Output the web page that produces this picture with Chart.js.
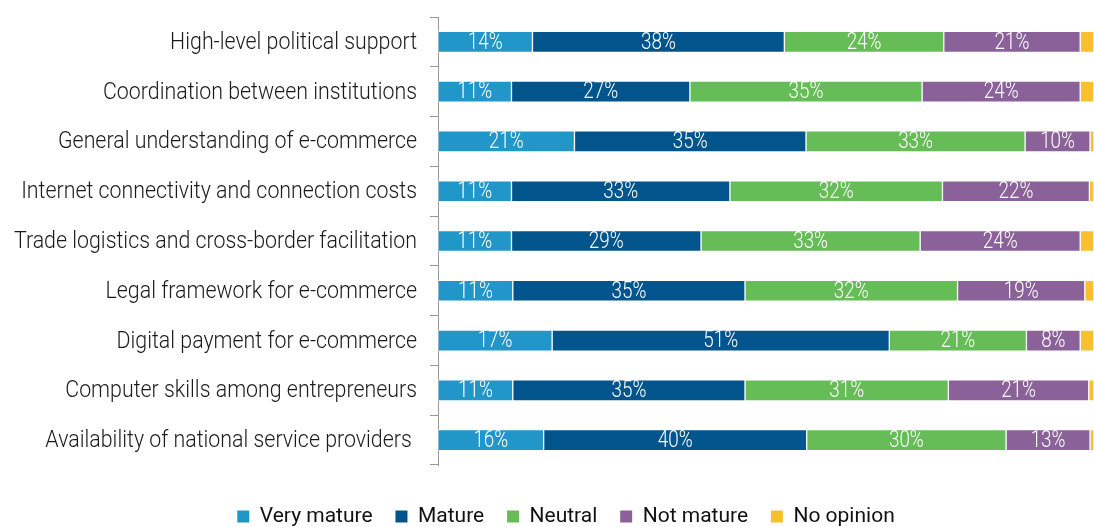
<!DOCTYPE html>
<html>
<head>
<meta charset="utf-8">
<script src="https://cdn.jsdelivr.net/npm/chart.js@4"></script>
<style>
  body { margin: 0; background: #fff; }
  #wrap { width: 1094px; height: 527px; }
</style>
</head>
<body>
<div id="wrap"><canvas id="chart"></canvas></div>
<script>
const categories = [
    'High-level political support',
    'Coordination between institutions',
    'General understanding of e-commerce',
    'Internet connectivity and connection costs',
    'Trade logistics and cross-border facilitation',
    'Legal framework for e-commerce',
    'Digital payment for e-commerce',
    'Computer skills among entrepreneurs',
    'Availability of national service providers '
];

const veryMature = [14.4, 11.2, 20.8, 11.2, 11.2, 11.4, 17.4, 11.4, 16.1];
const mature     = [38.4, 27.2, 35.3, 33.3, 28.9, 35.4, 51.4, 35.4, 40.1];
const neutral    = [24.3, 35.4, 33.4, 32.4, 33.4, 32.4, 20.9, 31.0, 30.4];
const notMature  = [20.8, 24.1,  9.9, 22.4, 24.4, 19.4,  8.2, 21.4, 12.8];
const noOpinion  = [ 2.1,  2.1,  0.6,  0.7,  2.1,  1.4,  2.1,  0.8,  0.6];

const seriesNames = ['Very mature', 'Mature', 'Neutral', 'Not mature', 'No opinion'];
const seriesColors = ['#2196C9', '#02558C', '#66BD57', '#8B6199', '#F7C12E'];
const seriesData = [veryMature, mature, neutral, notMature, noOpinion];

// the original uses a condensed face, so squeeze Roboto horizontally
function condensedText(ctx, text, x, y, squeeze) {
    ctx.save();
    ctx.translate(x, y);
    ctx.scale(squeeze, 1);
    ctx.fillText(text, 0, 0);
    ctx.restore();
}

// white percentage labels in the middle of each segment
const segmentLabels = {
    id: 'segmentLabels',
    afterDatasetsDraw(chart) {
        const ctx = chart.ctx;
        ctx.save();
        ctx.font = '300 23px Roboto';
        ctx.fillStyle = '#ffffff';
        ctx.textAlign = 'center';
        ctx.textBaseline = 'middle';
        chart.data.datasets.forEach((ds, i) => {
            if (i === 4) return;
            const meta = chart.getDatasetMeta(i);
            meta.data.forEach((bar, j) => {
                const v = ds.data[j];
                if (v < 5) return;
                condensedText(ctx, Math.round(v) + '%', (bar.x + bar.base) / 2, bar.y + 1, 0.82);
            });
        });
        ctx.restore();
    }
};

// category names drawn next to the y axis ticks
const categoryLabels = {
    id: 'categoryLabels',
    afterDraw(chart) {
        const ctx = chart.ctx;
        const y = chart.scales.y;
        ctx.save();
        ctx.font = '300 24px Roboto';
        ctx.fillStyle = '#1a1a1a';
        ctx.textAlign = 'right';
        ctx.textBaseline = 'middle';
        y.ticks.forEach((t, i) => {
            condensedText(ctx, categories[i], y.right - 8 - 13, y.getPixelForTick(i) + 1, 0.89);
        });
        ctx.restore();
    }
};

new Chart(document.getElementById('chart'), {
    type: 'bar',
    data: {
        labels: categories,
        datasets: seriesNames.map((name, i) => ({
            label: name,
            data: seriesData[i],
            backgroundColor: seriesColors[i],
            borderColor: 'rgba(255,255,255,0.45)',
            borderWidth: 1,
            borderSkipped: false,
            barThickness: 21
        }))
    },
    options: {
        indexAxis: 'y',
        responsive: true,
        maintainAspectRatio: false,
        animation: false,
        layout: { padding: { top: 17, left: 38, right: 0, bottom: -10 } },
        scales: {
            x: {
                stacked: true,
                min: 0,
                max: 100,
                grid: { display: false },
                border: { display: false },
                ticks: { display: false },
                afterFit: (scale) => { scale.height = 39; }
            },
            y: {
                stacked: true,
                grid: {
                    drawOnChartArea: false,
                    drawTicks: true,
                    tickLength: 8,
                    color: '#9a9a9a',
                    offset: true
                },
                border: { display: true, color: '#9a9a9a', width: 1 },
                ticks: {
                    padding: 0,
                    color: 'rgba(0,0,0,0)',
                    font: { family: 'Roboto', size: 1 }
                },
                afterFit: (scale) => { scale.width = 438 - 38; }
            }
        },
        plugins: {
            legend: {
                position: 'bottom',
                labels: {
                    boxWidth: 12,
                    boxHeight: 12,
                    padding: 2,
                    color: '#111111',
                    font: { family: 'Roboto', size: 21 },
                    generateLabels: (chart) => {
                        const items = Chart.defaults.plugins.legend.labels.generateLabels(chart);
                        items.forEach((item, i) => {
                            item.lineWidth = 0;
                            if (i < items.length - 1) item.text += '    ';
                        });
                        return items;
                    }
                }
            },
            tooltip: { enabled: false }
        }
    },
    plugins: [segmentLabels, categoryLabels]
});
</script>
</body>
</html>
